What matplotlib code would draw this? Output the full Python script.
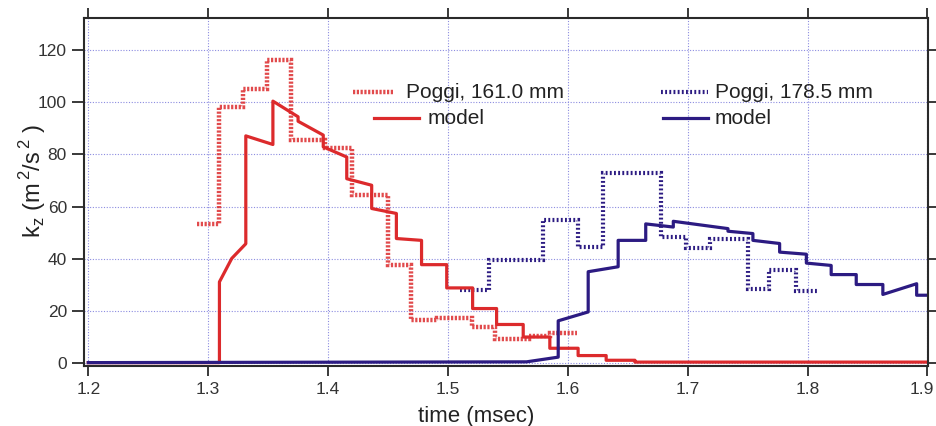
import numpy as np
import matplotlib
matplotlib.use('Agg')
import matplotlib.pyplot as plt
import matplotlib.transforms as mtransforms
from matplotlib.lines import Line2D

# Poggi data, 161.0 mm (step values between edges)
poggi161_edges = [1.2906, 1.3094, 1.3294, 1.349, 1.369, 1.3975, 1.4197, 1.4503,
                  1.469, 1.4906, 1.5197, 1.539, 1.568, 1.585, 1.608]
poggi161_vals = [53.3, 98.2, 105.2, 116.3, 85.4, 82.4, 64.4, 37.5,
                 16.5, 17.3, 13.9, 9.5, 10.3, 11.5]

# Poggi data, 178.5 mm
poggi178_edges = [1.51, 1.5344, 1.5794, 1.6086, 1.6294, 1.678, 1.699, 1.7183,
                  1.7503, 1.768, 1.7906, 1.8086]
poggi178_vals = [28.0, 39.5, 54.8, 44.5, 72.8, 48.4, 44.3, 47.8, 28.6, 35.9, 27.7]

# model, 161.0 mm
model161_t = [1.2, 1.3094, 1.3094, 1.3197, 1.3314, 1.3314, 1.354, 1.354, 1.375, 1.375,
              1.396, 1.396, 1.4156, 1.4156, 1.4364, 1.4364, 1.457, 1.457, 1.478, 1.478,
              1.499, 1.499, 1.5206, 1.5206, 1.5406, 1.5406, 1.5628, 1.5628, 1.585, 1.585,
              1.6086, 1.6086, 1.632, 1.632, 1.656, 1.656, 1.9]
model161_k = [0.3, 0.3, 31.2, 40.2, 45.8, 87.1, 83.8, 100.4, 94.4, 92.7,
              87.4, 82.9, 79.0, 70.7, 68.2, 59.3, 57.4, 47.8, 47.1, 37.8,
              37.8, 28.9, 28.9, 21.0, 21.0, 14.9, 14.9, 10.1, 10.1, 5.8,
              5.8, 3.0, 3.0, 1.2, 1.2, 0.5, 0.5]

# model, 178.5 mm
model178_t = [1.2, 1.5656, 1.592, 1.592, 1.617, 1.617, 1.642, 1.642, 1.665, 1.665,
              1.688, 1.688, 1.7336, 1.7336, 1.7544, 1.7544, 1.7767, 1.7767, 1.799, 1.799,
              1.8197, 1.8197, 1.8406, 1.8406, 1.8628, 1.8628, 1.891, 1.891, 1.9]
model178_k = [0.3, 0.6, 2.4, 16.3, 19.7, 35.1, 37.0, 47.1, 47.1, 53.4,
              52.2, 54.4, 51.6, 50.6, 49.7, 47.1, 45.9, 42.6, 41.8, 38.4,
              37.5, 34.0, 34.0, 30.2, 30.2, 26.4, 30.5, 26.1, 26.1]

xtick_vals = [1.2, 1.3, 1.4, 1.5, 1.6, 1.7, 1.8, 1.9]
xtick_labels = ['1.2', '1.3', '1.4', '1.5', '1.6', '1.7', '1.8', '1.9']
ytick_vals = [0, 20, 40, 60, 80, 100, 120]

red = '#dc2a2c'
blue = '#2c1b82'
red_dash = (0, (0.5, 0.35))
blue_dash = (0, (0.45, 0.55))

plt.rcParams['font.family'] = 'Liberation Sans'

fig = plt.figure(figsize=(9.37, 4.26), dpi=100)
ax = fig.add_axes([0.09, 0.1408, 0.9007, 0.8162])

ax.stairs(poggi161_vals, poggi161_edges, baseline=None, color=red, lw=3.2,
          linestyle=red_dash, alpha=0.85)
ax.plot(model161_t, model161_k, color=red, lw=2.3)
ax.stairs(poggi178_vals, poggi178_edges, baseline=None, color=blue, lw=3.0,
          linestyle=blue_dash)
ax.plot(model178_t, model178_k, color=blue, lw=2.3)

ax.set_xlim(1.1967, 1.9007)
ax.set_ylim(-1.0, 132.1)
ax.set_xticks(xtick_vals)
ax.set_xticklabels(xtick_labels)
ax.set_yticks(ytick_vals)
ax.grid(True, color='#8c8ce0', linestyle=(0, (1, 1.5)), lw=0.8)
ax.set_axisbelow(True)

for s in ax.spines.values():
    s.set_linewidth(1.5)
    s.set_color('#2a2a2a')
ax.tick_params(direction='out', length=7.5, width=1.3, color='#2a2a2a',
               top=True, right=True, labelcolor='#333333')
ax.tick_params(axis='x', labelsize=12.5, pad=4)
ax.tick_params(axis='y', which='major', left=True, length=8.5, labelsize=12.5, pad=4)

# last x label sits against the figure edge, nudge it in
lab = ax.get_xticklabels()[-1]
lab.set_transform(lab.get_transform() +
                  mtransforms.ScaledTranslation(-6 / 100, 0, fig.dpi_scale_trans))

ax.set_xlabel('time (msec)', fontsize=16, color='#222222')
ax.xaxis.set_label_coords(0.464, -0.115)
ax.set_ylabel(r'k$_\mathregular{z}$ (m$^{\mathregular{\,2}}$/s$^{\mathregular{\,2}}$ )',
              fontsize=17, color='#222222')
ax.yaxis.set_label_coords(-0.043, 0.532)

# legend drawn by hand, two groups
tr = ax.transAxes
leg_rows = [0.788, 0.7133]
ax.add_line(Line2D([0.3178, 0.3665], [leg_rows[0]] * 2, transform=tr, color=red,
                   lw=3.2, linestyle=red_dash, alpha=0.85))
ax.text(0.3812, leg_rows[0], 'Poggi, 161.0 mm', transform=tr, fontsize=15,
        va='center', color='#222222')
ax.add_line(Line2D([0.3433, 0.3961], [leg_rows[1]] * 2, transform=tr, color=red, lw=2.3))
ax.text(0.4066, leg_rows[1], 'model', transform=tr, fontsize=15,
        va='center', color='#222222')

ax.add_line(Line2D([0.6833, 0.7390], [leg_rows[0]] * 2, transform=tr, color=blue,
                   lw=3.0, linestyle=blue_dash))
ax.text(0.7473, leg_rows[0], 'Poggi, 178.5 mm', transform=tr, fontsize=15,
        va='center', color='#222222')
ax.add_line(Line2D([0.6856, 0.7390], [leg_rows[1]] * 2, transform=tr, color=blue, lw=2.3))
ax.text(0.7473, leg_rows[1], 'model', transform=tr, fontsize=15,
        va='center', color='#222222')

fig.savefig('out.png', dpi=100)
plt.close(fig)
